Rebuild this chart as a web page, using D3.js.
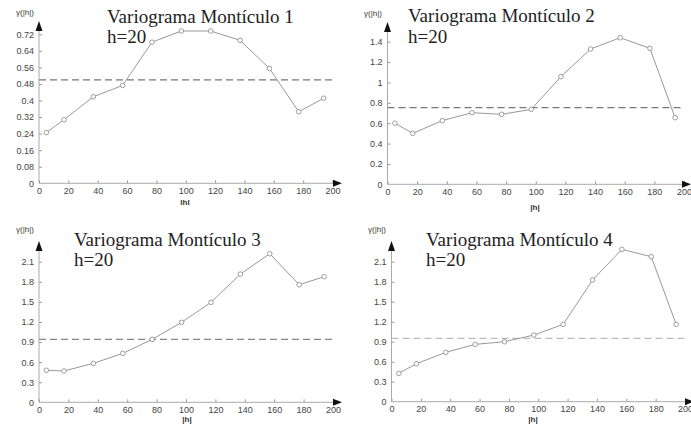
<!DOCTYPE html>
<html>
<head>
<style>
body {margin:0; background:#fff;}
.tick text {font-family: Arial, "Liberation Sans", sans-serif; font-size: 9px; fill: #444;}
.tick line {stroke: #999;}
.ttl {font-family: "Times New Roman", "Liberation Serif", serif; fill: #222;}
.small {font-family: Arial, "Liberation Sans", sans-serif; font-size: 8px; fill: #333;}
</style>
<script src="https://d3js.org/d3.v7.min.js"></script>
</head>
<body>
<svg id="vis" width="691" height="430"></svg>
<script>
// lag distances |h| (same for every mound)
var lags = [5, 17, 37, 57, 77, 97, 117, 137, 157, 177, 194];

var gamma1 = [0.245, 0.307, 0.418, 0.473, 0.682, 0.736, 0.736, 0.691, 0.555, 0.346, 0.411];
var gamma2 = [0.60, 0.50, 0.625, 0.703, 0.687, 0.736, 1.057, 1.328, 1.439, 1.335, 0.654];
var gamma3 = [0.478, 0.468, 0.582, 0.731, 0.94, 1.194, 1.493, 1.915, 2.219, 1.756, 1.876];
var gamma4 = [0.425, 0.57, 0.74, 0.86, 0.90, 1.00, 1.16, 1.825, 2.285, 2.175, 1.16];

var sills = [0.50, 0.752, 0.94, 0.95];

var xTicks = [0, 20, 40, 60, 80, 100, 120, 140, 160, 180, 200];
var yTicks1 = [0, 0.08, 0.16, 0.24, 0.32, 0.4, 0.48, 0.56, 0.64, 0.72];
var yTicks2 = [0, 0.2, 0.4, 0.6, 0.8, 1, 1.2, 1.4];
var yTicks3 = [0, 0.3, 0.6, 0.9, 1.2, 1.5, 1.8, 2.1];
var yTicks4 = [0, 0.3, 0.6, 0.9, 1.2, 1.5, 1.8, 2.1];

var titles = ["Variograma Montículo 1", "Variograma Montículo 2", "Variograma Montículo 3", "Variograma Montículo 4"];
var xLabels = ["lhl", "|h|", "|h|", "|h|"];

// layout of each panel: pixel range of the axes
var panels = [
  {g: gamma1, yt: yTicks1, x0: 39, x1: 332.5, y0: 183.3, y1: 34.3, xEnd: 342, yEnd: 21, tx: 107, ty: 23, hy: 43, dashEnd: 333, dashCol: "#777", gx: 34, gy: 15, lx: 185, ly: 205},
  {g: gamma2, yt: yTicks2, x0: 387.5, x1: 684, y0: 184.3, y1: 41.7, xEnd: 691, yEnd: 22, tx: 408, ty: 22, hy: 43, dashEnd: 683, dashCol: "#777", gx: 382, gy: 16, lx: 535, ly: 210},
  {g: gamma3, yt: yTicks3, x0: 39, x1: 333, y0: 402.3, y1: 261.7, xEnd: 342, yEnd: 241, tx: 74, ty: 246, hy: 266, dashEnd: 335, dashCol: "#888", gx: 34, gy: 232, lx: 187, ly: 422},
  {g: gamma4, yt: yTicks4, x0: 391.5, x1: 685, y0: 401.7, y1: 261.7, xEnd: 694, yEnd: 241, tx: 426, ty: 246, hy: 266, dashEnd: 688, dashCol: "#bbb", gx: 386, gy: 232, lx: 533, ly: 422}
];

var svg = d3.select("#vis");

panels.forEach(function(p, i) {
  var top = p.yt[p.yt.length - 1];
  var x = d3.scaleLinear().domain([0, 200]).range([p.x0, p.x1]);
  var y = d3.scaleLinear().domain([0, top]).range([p.y0, p.y1]);
  var g = svg.append("g");

  // axes
  g.append("g").attr("transform", "translate(0," + p.y0 + ")")
    .call(d3.axisBottom(x).tickValues(xTicks).tickSize(-3).tickPadding(4).tickFormat(d3.format("d")))
    .call(function(a) { a.select(".domain").remove(); });
  g.append("g").attr("transform", "translate(" + p.x0 + ",0)")
    .call(d3.axisLeft(y).tickValues(p.yt).tickSize(-3).tickPadding(5).tickFormat(function(d) { return d3.format("~g")(d); }))
    .call(function(a) { a.select(".domain").remove(); a.select(".tick line").remove(); });

  g.append("line").attr("x1", p.x0).attr("x2", p.xEnd - 8).attr("y1", p.y0).attr("y2", p.y0)
    .attr("stroke", "#aaa").attr("stroke-width", 1);
  g.append("line").attr("x1", p.x0).attr("x2", p.x0).attr("y1", p.y0).attr("y2", p.yEnd + 8)
    .attr("stroke", "#aaa").attr("stroke-width", 1);
  g.append("path").attr("d", "M" + p.xEnd + "," + p.y0 + "L" + (p.xEnd - 9) + "," + (p.y0 - 3.5) + "L" + (p.xEnd - 9) + "," + (p.y0 + 3.5) + "Z")
    .attr("fill", "#111");
  g.append("path").attr("d", "M" + p.x0 + "," + p.yEnd + "L" + (p.x0 - 3.5) + "," + (p.yEnd + 10) + "L" + (p.x0 + 3.5) + "," + (p.yEnd + 10) + "Z")
    .attr("fill", "#111");

  // sill
  g.append("line").attr("x1", p.x0).attr("x2", p.dashEnd).attr("y1", y(sills[i])).attr("y2", y(sills[i]))
    .attr("stroke", p.dashCol).attr("stroke-width", 1.2).attr("stroke-dasharray", "7,4");

  // experimental variogram
  var pts = lags.map(function(h, k) { return [h, p.g[k]]; });
  g.append("path").datum(pts)
    .attr("d", d3.line().x(function(d) { return x(d[0]); }).y(function(d) { return y(d[1]); }))
    .attr("fill", "none").attr("stroke", "#999").attr("stroke-width", 1);
  g.selectAll("circle").data(pts).enter().append("circle")
    .attr("cx", function(d) { return x(d[0]); })
    .attr("cy", function(d) { return y(d[1]); })
    .attr("r", 2.3).attr("fill", "#fff").attr("stroke", "#888").attr("stroke-width", 0.8);

  // texts
  g.append("text").attr("class", "ttl").attr("x", p.tx).attr("y", p.ty).style("font-size", "19px").text(titles[i]);
  g.append("text").attr("class", "ttl").attr("x", p.tx).attr("y", p.hy).style("font-size", "19px").text("h=20");
  g.append("text").attr("class", "small").attr("x", p.gx).attr("y", p.gy).attr("text-anchor", "end").text("γ(|h|)");
  g.append("text").attr("class", "small").attr("x", p.lx).attr("y", p.ly).attr("text-anchor", "middle")
    .style("font-weight", "bold").text(xLabels[i]);
});
</script>
</body>
</html>
